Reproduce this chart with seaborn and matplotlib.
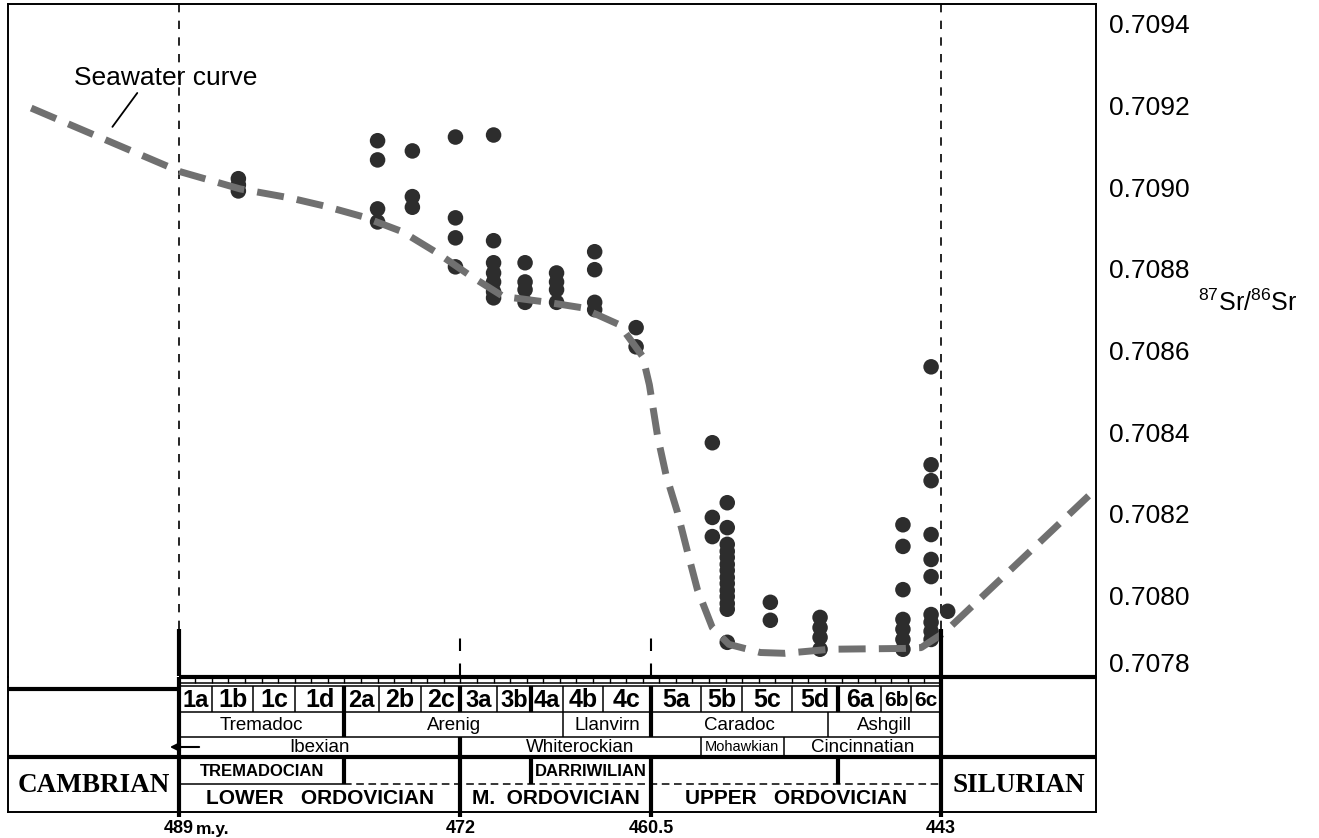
import numpy as np
import pandas as pd
import matplotlib.pyplot as plt
import seaborn as sns

# seawater 87Sr/86Sr curve (age in m.y., ratio)
curve_age = [497.9, 488.9, 485.3, 482.3, 480.2, 477.9, 475.5, 473.4, 471.4, 469.4,
             468.4, 466.9, 464.7, 462.4, 461.0, 460.6, 460.1, 459.6, 458.9, 458.3,
             457.7, 456.8, 455.8, 453.9, 452.4, 449.7, 445.2, 444.2, 442.8, 433.7]
curve_sr = [0.709194, 0.709038, 0.708996, 0.708974, 0.708954, 0.708928, 0.708891, 0.708839,
            0.708783, 0.708732, 0.708727, 0.708719, 0.708705, 0.708663, 0.708585, 0.708516,
            0.708389, 0.708296, 0.708203, 0.708107, 0.708014, 0.707921, 0.707880, 0.707860,
            0.707858, 0.707868, 0.707870, 0.707872, 0.707909, 0.708259]

# measured samples
sample_age = ([485.4] * 3 + [477.0] * 4 + [474.9] * 3 + [472.3] * 4 + [470.0] * 7 +
              [468.1] * 4 + [466.2] * 4 + [463.9] * 4 + [461.4] * 2 + [456.8] * 3 +
              [455.9] * 14 + [453.3] * 2 + [450.3] * 4 + [445.3] * 7 + [443.6] * 10 + [442.6])
sample_sr = [0.709021, 0.709006, 0.708991,
             0.709114, 0.709067, 0.708947, 0.708915,
             0.709089, 0.708977, 0.708951,
             0.709123, 0.708925, 0.708876, 0.708805,
             0.709128, 0.708869, 0.708815, 0.708790, 0.708768, 0.708744, 0.708729,
             0.708815, 0.708768, 0.708749, 0.708718,
             0.708790, 0.708768, 0.708749, 0.708718,
             0.708842, 0.708798, 0.708718, 0.708700,
             0.708656, 0.708609,
             0.708374, 0.708191, 0.708144,
             0.708227, 0.708166, 0.708125, 0.708108, 0.708093, 0.708076, 0.708061,
             0.708044, 0.708029, 0.708012, 0.707997, 0.707980, 0.707966, 0.707885,
             0.707983, 0.707939,
             0.707946, 0.707921, 0.707897, 0.707868,
             0.708173, 0.708120, 0.708014, 0.707941, 0.707917, 0.707892, 0.707868,
             0.708560, 0.708320, 0.708281, 0.708149, 0.708088, 0.708046, 0.707953,
             0.707934, 0.707912, 0.707892,
             0.707961]

sr_ticks = [0.7078, 0.7080, 0.7082, 0.7084, 0.7086, 0.7088, 0.7090, 0.7092, 0.7094]

# stratigraphic column
substage_labels = ['1a', '1b', '1c', '1d', '2a', '2b', '2c', '3a', '3b', '4a',
                   '4b', '4c', '5a', '5b', '5c', '5d', '6a', '6b', '6c']
substage_edges = [489, 487.0, 484.5, 482.0, 479.0, 476.9, 474.4, 472, 469.8, 467.75,
                  465.8, 463.4, 460.5, 457.5, 455.0, 452.0, 449.2, 446.6, 444.8, 443]
british_series = [('Tremadoc', 489, 479), ('Arenig', 479, 465.8), ('Llanvirn', 465.8, 460.5),
                  ('Caradoc', 460.5, 449.8), ('Ashgill', 449.8, 443)]
na_series = [('Ibexian', 489, 472), ('Whiterockian', 472, 457.5),
             ('Mohawkian', 457.5, 452.5), ('Cincinnatian', 452.5, 443)]
stages = [('TREMADOCIAN', 489, 479), ('DARRIWILIAN', 467.75, 460.5)]
epochs = [('LOWER   ORDOVICIAN', 489, 472), ('M.  ORDOVICIAN', 472, 460.5),
          ('UPPER   ORDOVICIAN', 460.5, 443)]
boundary_ages = [489, 472, 460.5, 443]
boundary_labels = ['489', '472', '460.5', '443']

W, H = 1319, 838
X_LEFT, X_RIGHT = 499.3, 433.65

sns.set_theme(style='white')
plt.rcParams['font.family'] = ['Liberation Sans', 'DejaVu Sans']
plt.rcParams['text.color'] = 'black'
plt.rcParams['mathtext.fontset'] = 'custom'
plt.rcParams['mathtext.rm'] = 'Liberation Sans'


def px_box(x0, y0, x1, y1):
    return [x0 / W, 1 - y1 / H, (x1 - x0) / W, (y1 - y0) / H]


fig = plt.figure(figsize=(W / 100, H / 100), dpi=100)
ax = fig.add_axes(px_box(8, 4, 1096, 677))
col = fig.add_axes(px_box(8, 677, 1096, 812))

# ---------- data panel ----------
samples = pd.DataFrame({'age': sample_age, 'sr': sample_sr})
curve = pd.DataFrame({'age': curve_age, 'sr': curve_sr})

sns.scatterplot(data=samples, x='age', y='sr', ax=ax, s=125, color='#2d2d2d',
                edgecolor='none', linewidth=0, zorder=3)
sns.lineplot(data=curve, x='age', y='sr', ax=ax, sort=False, estimator=None,
             color='#707070', lw=5, linestyle=(0, (3.9, 1.9)), zorder=4)

ax.set_xlim(X_LEFT, X_RIGHT)
ax.set_ylim(0.7078015, 0.709449)
ax.set_xticks([])
ax.set_yticks(sr_ticks)
ax.set_yticklabels([f'{t:.4f}' for t in sr_ticks])
ax.yaxis.tick_right()
ax.tick_params(axis='y', length=0, pad=9, labelsize=19, labelcolor='black')
ax.get_yticklabels()[0].set_va('bottom')
ax.set_xlabel('')
ax.set_ylabel('')
for side in ['top', 'left', 'right']:
    ax.spines[side].set_visible(True)
    ax.spines[side].set_color('black')
    ax.spines[side].set_linewidth(1.4)
ax.spines['bottom'].set_visible(False)

y_split = 0.707917
for a in [489, 443]:
    ax.vlines(a, y_split, 0.709449, colors='black', lw=1.2, linestyles=(0, (5, 5)), zorder=2)
    ax.vlines(a, 0.7078015, y_split, colors='black', lw=3, zorder=5)
for a in [472, 460.5]:
    ax.vlines(a, 0.7078015, y_split, colors='black', lw=1.5, linestyles=(0, (6, 6)), zorder=2)

ax.text(489.8, 0.709268, 'Seawater curve', fontsize=19, ha='center', va='center')
ax.plot([491.5, 493.0], [0.709231, 0.709148], color='black', lw=1.3)

fig.text(1248 / W, 1 - 303 / H, r'$^{87}$Sr/$^{86}$Sr', fontsize=18, ha='center', va='center')

# ---------- stratigraphic column (y in pixel rows) ----------
col.set_xlim(X_LEFT, X_RIGHT)
col.set_ylim(812, 677)
col.set_facecolor('none')
col.set_xticks([])
col.set_yticks([])
for side in ['left', 'right', 'bottom']:
    col.spines[side].set_visible(True)
    col.spines[side].set_color('black')
    col.spines[side].set_linewidth(1.4)
col.spines['top'].set_visible(False)

K = dict(colors='black', clip_on=False)
# horizontal rules
col.hlines(677, 489, X_RIGHT, lw=3, **K)
col.hlines(689, X_LEFT, 489, lw=3, **K)
col.hlines(757, X_LEFT, X_RIGHT, lw=3, **K)
for yy in [683, 686, 712, 737]:
    col.hlines(yy, 489, 443, lw=1.1, **K)
col.hlines(784, 489, 479, lw=1.1, **K)
col.hlines(784, 479, 443, lw=1.1, linestyles=(0, (5, 3)), **K)

# time ruler (1 m.y. ticks)
col.vlines(np.arange(443, 490), 677, 683, lw=1.0, **K)

# thick boundaries
for a in [489, 443]:
    col.vlines(a, 677, 817, lw=3, **K)
col.vlines(472, 686, 712, lw=3, **K)
col.vlines(472, 737, 817, lw=3, **K)
col.vlines(460.5, 686, 737, lw=3, **K)
col.vlines(460.5, 757, 817, lw=3, **K)
col.vlines(479, 686, 737, lw=3, **K)
col.vlines(479, 757, 784, lw=3, **K)
for a in [467.75, 449.2]:
    col.vlines(a, 686, 712, lw=3, **K)
    col.vlines(a, 757, 784, lw=3, **K)

# thin separators
thick_set = {489, 479, 472, 467.75, 460.5, 449.2, 443}
for a in substage_edges:
    if a not in thick_set:
        col.vlines(a, 686, 712, lw=1.1, **K)
for a in [465.8, 449.8]:
    col.vlines(a, 712, 737, lw=1.1, **K)
for a in [457.5, 452.5]:
    col.vlines(a, 737, 757, lw=1.1, **K)

# labels
label_size = {'6b': 15, '6c': 15, '1a': 17, '2a': 17, '3a': 17, '3b': 17, '4a': 17}
for i, lab in enumerate(substage_labels):
    xc = (substage_edges[i] + substage_edges[i + 1]) / 2
    col.text(xc, 700, lab, ha='center', va='center', fontweight='bold',
             fontsize=label_size.get(lab, 18))
for lab, a0, a1 in british_series:
    col.text((a0 + a1) / 2, 725, lab, ha='center', va='center', fontsize=13.5)
for lab, a0, a1 in na_series:
    col.text((a0 + a1) / 2, 747, lab, ha='center', va='center',
             fontsize=10.5 if lab == 'Mohawkian' else 13.5)
for lab, a0, a1 in stages:
    col.text((a0 + a1) / 2, 771, lab, ha='center', va='center', fontweight='bold', fontsize=12)
for lab, a0, a1 in epochs:
    col.text((a0 + a1) / 2, 798, lab, ha='center', va='center', fontweight='bold', fontsize=15)

col.text((X_LEFT + 489) / 2, 785, 'CAMBRIAN', ha='center', va='center', fontsize=19.5,
         fontweight='bold', family='Liberation Serif')
col.text((443 + X_RIGHT) / 2, 785, 'SILURIAN', ha='center', va='center', fontsize=19.5,
         fontweight='bold', family='Liberation Serif')

col.annotate('', xy=(489.7, 747), xytext=(487.6, 747),
             arrowprops=dict(arrowstyle='-|>', lw=1.5, color='black', mutation_scale=14))

for a, lab in zip(boundary_ages, boundary_labels):
    col.text(a, 828, lab, ha='center', va='center', fontweight='bold', fontsize=13, clip_on=False)
col.annotate('m.y.', xy=(489, 829), xytext=(12.5, 0), textcoords='offset points',
             ha='left', va='center', fontweight='bold', fontsize=12.5, annotation_clip=False)

fig.savefig('out.png', dpi=100)
